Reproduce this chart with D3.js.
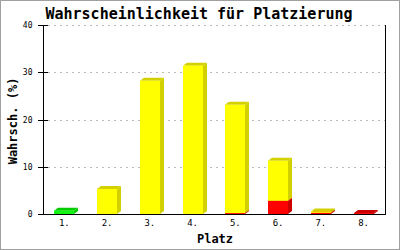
<!DOCTYPE html>
<html><head><meta charset="utf-8">
<script src="https://cdn.jsdelivr.net/npm/d3@7"></script>
<style>body{margin:0;background:#fff}</style>
</head><body>
<script>
const categories = ["1.","2.","3.","4.","5.","6.","7.","8."];
const seriesNames = ["green","red","yellow"];
const greenValues  = [0.7, 0, 0, 0, 0, 0, 0, 0];
const redValues    = [0, 0, 0, 0, 0.2, 2.8, 0.25, 0.2];
const yellowValues = [0, 5.3, 28.2, 31.4, 22.9, 8.45, 0.3, 0];
const yTicks = [0, 10, 20, 30, 40];
const title = "Wahrscheinlichkeit für Platzierung";
const xTitle = "Platz";
const yTitle = "Wahrsch. (%)";

const colors = {
  green: {front:"#11f511", dark:"#00cc00"},
  red: {front:"#ff0000", dark:"#cc0000"},
  yellow: {front:"#ffff00", dark:"#d2d000"}
};

const W = 400, H = 250;
const m = {left:43, right:15, top:25, bottom:36};
const svg = d3.select("body").append("svg").attr("width", W).attr("height", H);
svg.append("rect").attr("x",0.5).attr("y",0.5).attr("width",W-1).attr("height",H-1)
  .attr("fill","#fff").attr("stroke","#a0a0a0");

const x = d3.scaleBand().domain(categories).range([m.left, W-m.right]);
const y = d3.scaleLinear().domain([0,40]).range([H-m.bottom, m.top]);

// grid
svg.append("g").selectAll("line").data(yTicks.filter(d=>d>0)).join("line")
  .attr("x1", m.left+5).attr("x2", W-m.right)
  .attr("y1", d=>Math.round(y(d))+0.5).attr("y2", d=>Math.round(y(d))+0.5)
  .attr("stroke","#bbbbbb").attr("stroke-dasharray","2,4");

// stacked data
const rows = categories.map((c,i)=>({cat:c, green:greenValues[i], red:redValues[i], yellow:yellowValues[i]}));
const stack = d3.stack().keys(seriesNames)(rows);
const bw = 20, dx = 4, dy = 3;
const bars = svg.append("g");
stack.forEach(layer=>{
  const key = layer.key;
  layer.forEach(d=>{
    if (d[1]-d[0] <= 0) return;
    const cx = x(d.data.cat) + x.bandwidth()/2;
    const x0 = Math.round(cx - bw/2), x1 = x0 + bw;
    const yb = y(d[0]), yt = y(d[1]);
    // side
    bars.append("polygon")
      .attr("points", `${x1},${yb} ${x1+dx},${yb-dy} ${x1+dx},${yt-dy} ${x1},${yt}`)
      .attr("fill", colors[key].dark);
    // top
    bars.append("polygon")
      .attr("points", `${x0},${yt} ${x0+dx},${yt-dy} ${x1+dx},${yt-dy} ${x1},${yt}`)
      .attr("fill", colors[key].dark);
    // front
    bars.append("rect").attr("x", x0).attr("y", yt).attr("width", bw).attr("height", yb-yt)
      .attr("fill", colors[key].front);
  });
});

// axes
const yAxis = d3.axisLeft(y).tickValues(yTicks).tickSize(0).tickPadding(11);
const ga = svg.append("g").attr("transform", `translate(${m.left+0.5},0)`).call(yAxis);
ga.select(".domain").remove();
ga.selectAll("text").attr("font-family","DejaVu Sans Mono").attr("font-size","8px").attr("fill","#000");
svg.append("g").selectAll("line").data(yTicks).join("line")
  .attr("x1", m.left-5).attr("x2", m.left+5)
  .attr("y1", d=>Math.round(y(d))+0.5).attr("y2", d=>Math.round(y(d))+0.5)
  .attr("stroke","#000");
svg.append("line").attr("x1", m.left+0.5).attr("x2", m.left+0.5).attr("y1", m.top).attr("y2", y(0)+0.5).attr("stroke","#000");
svg.append("line").attr("x1", W-m.right+0.5).attr("x2", W-m.right+0.5).attr("y1", m.top).attr("y2", y(0)+0.5).attr("stroke","#000");
svg.append("line").attr("x1", m.left).attr("x2", W-m.right+1).attr("y1", y(0)+0.5).attr("y2", y(0)+0.5).attr("stroke","#000");

const xAxis = d3.axisBottom(x).tickSize(0).tickPadding(6);
const gx = svg.append("g").attr("transform", `translate(0,${y(0)})`).call(xAxis);
gx.select(".domain").remove();
gx.selectAll("text").attr("font-family","DejaVu Sans Mono").attr("font-size","9px").attr("fill","#000");

// titles
svg.append("text").attr("x", 199).attr("y", 19).attr("text-anchor","middle")
  .attr("font-family","DejaVu Sans Mono").attr("font-weight","bold").attr("font-size","15px").text(title);
svg.append("text").attr("x", 215).attr("y", 243).attr("text-anchor","middle")
  .attr("font-family","DejaVu Sans Mono").attr("font-weight","bold").attr("font-size","12px").text(xTitle);
svg.append("text").attr("transform","translate(17,121) rotate(-90)").attr("text-anchor","middle")
  .attr("font-family","DejaVu Sans Mono").attr("font-weight","bold").attr("font-size","12px").text(yTitle);
</script>
</body></html>
